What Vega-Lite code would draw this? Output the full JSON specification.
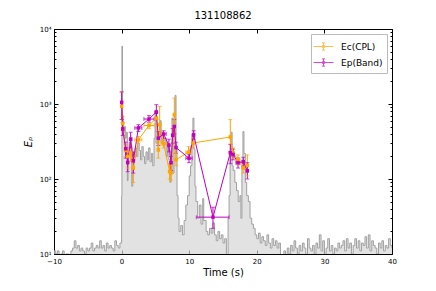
{
  "$schema": "https://vega.github.io/schema/vega-lite/v6.json",
  "autosize": "none",
  "width": 338,
  "height": 225,
  "padding": {"left": 54, "top": 29, "right": 44, "bottom": 37},
  "background": "white",
  "title": {"text": "131108862", "fontSize": 10, "fontWeight": "normal", "font": "DejaVu Sans", "offset": 4, "color": "black"},
  "config": {
    "font": "DejaVu Sans",
    "view": {"stroke": "black", "strokeWidth": 1},
    "axis": {"grid": false, "domain": false, "tickColor": "black", "labelColor": "black", "titleColor": "black", "labelFont": "DejaVu Sans", "titleFont": "DejaVu Sans"}
  },
  "datasets": {
    "lc": [
      {"t": -10, "c": 11}, {"t": -9.75, "c": 10}, {"t": -9.5, "c": 11}, {"t": -9.25, "c": 9}, {"t": -9, "c": 10},
      {"t": -8.75, "c": 11}, {"t": -8.5, "c": 9}, {"t": -8.25, "c": 10}, {"t": -8, "c": 10}, {"t": -7.75, "c": 9},
      {"t": -7.5, "c": 11}, {"t": -7.25, "c": 12}, {"t": -7, "c": 15}, {"t": -6.75, "c": 12}, {"t": -6.5, "c": 13},
      {"t": -6.25, "c": 11}, {"t": -6, "c": 12}, {"t": -5.75, "c": 11}, {"t": -5.5, "c": 10}, {"t": -5.25, "c": 12},
      {"t": -5, "c": 11}, {"t": -4.75, "c": 12}, {"t": -4.5, "c": 14}, {"t": -4.25, "c": 11}, {"t": -4, "c": 12},
      {"t": -3.75, "c": 13}, {"t": -3.5, "c": 12}, {"t": -3.25, "c": 15}, {"t": -3, "c": 12}, {"t": -2.75, "c": 13},
      {"t": -2.5, "c": 11}, {"t": -2.25, "c": 14}, {"t": -2, "c": 12}, {"t": -1.75, "c": 13}, {"t": -1.5, "c": 12},
      {"t": -1.25, "c": 11}, {"t": -1, "c": 15}, {"t": -0.75, "c": 13}, {"t": -0.5, "c": 12}, {"t": -0.25, "c": 14},
      {"t": 0.0, "c": 60}, {"t": 0.05, "c": 5900}, {"t": 0.13, "c": 700}, {"t": 0.25, "c": 420}, {"t": 0.4, "c": 500},
      {"t": 0.55, "c": 350}, {"t": 0.7, "c": 420}, {"t": 0.85, "c": 95}, {"t": 0.95, "c": 200}, {"t": 1.1, "c": 310},
      {"t": 1.3, "c": 250}, {"t": 1.5, "c": 80}, {"t": 1.65, "c": 150}, {"t": 1.8, "c": 220}, {"t": 2.0, "c": 260},
      {"t": 2.2, "c": 200}, {"t": 2.4, "c": 300}, {"t": 2.6, "c": 240}, {"t": 2.8, "c": 180}, {"t": 3.0, "c": 270},
      {"t": 3.2, "c": 200}, {"t": 3.4, "c": 160}, {"t": 3.6, "c": 230}, {"t": 3.8, "c": 180}, {"t": 4.0, "c": 260},
      {"t": 4.2, "c": 170}, {"t": 4.4, "c": 220}, {"t": 4.6, "c": 150}, {"t": 4.8, "c": 350}, {"t": 4.95, "c": 800},
      {"t": 5.1, "c": 300}, {"t": 5.3, "c": 420}, {"t": 5.5, "c": 350}, {"t": 5.7, "c": 600}, {"t": 5.85, "c": 300},
      {"t": 6.0, "c": 420}, {"t": 6.2, "c": 280}, {"t": 6.4, "c": 350}, {"t": 6.6, "c": 200}, {"t": 6.8, "c": 300},
      {"t": 7.0, "c": 180}, {"t": 7.15, "c": 90}, {"t": 7.3, "c": 250}, {"t": 7.45, "c": 650}, {"t": 7.6, "c": 120},
      {"t": 7.75, "c": 300}, {"t": 7.9, "c": 1300}, {"t": 8.05, "c": 250}, {"t": 8.2, "c": 60}, {"t": 8.35, "c": 30},
      {"t": 8.5, "c": 20}, {"t": 8.75, "c": 24}, {"t": 9.0, "c": 18}, {"t": 9.25, "c": 28}, {"t": 9.5, "c": 45},
      {"t": 9.75, "c": 60}, {"t": 10.0, "c": 110}, {"t": 10.2, "c": 150}, {"t": 10.4, "c": 400}, {"t": 10.55, "c": 650},
      {"t": 10.7, "c": 250}, {"t": 10.85, "c": 80}, {"t": 11.0, "c": 50}, {"t": 11.25, "c": 30}, {"t": 11.5, "c": 45},
      {"t": 11.75, "c": 25}, {"t": 12.0, "c": 55}, {"t": 12.15, "c": 28}, {"t": 12.5, "c": 20}, {"t": 12.75, "c": 18},
      {"t": 13.0, "c": 22}, {"t": 13.25, "c": 19}, {"t": 13.5, "c": 26}, {"t": 13.75, "c": 18}, {"t": 14.0, "c": 15},
      {"t": 14.25, "c": 20}, {"t": 14.5, "c": 16}, {"t": 14.75, "c": 18}, {"t": 15.0, "c": 14}, {"t": 15.25, "c": 16},
      {"t": 15.5, "c": 9}, {"t": 15.75, "c": 30}, {"t": 15.9, "c": 60}, {"t": 16.05, "c": 200}, {"t": 16.2, "c": 420},
      {"t": 16.35, "c": 150}, {"t": 16.5, "c": 130}, {"t": 16.75, "c": 90}, {"t": 17.0, "c": 70}, {"t": 17.25, "c": 50},
      {"t": 17.5, "c": 60}, {"t": 17.65, "c": 30}, {"t": 17.8, "c": 150}, {"t": 17.95, "c": 430}, {"t": 18.1, "c": 220},
      {"t": 18.3, "c": 90}, {"t": 18.5, "c": 60}, {"t": 18.75, "c": 50}, {"t": 19.0, "c": 30}, {"t": 19.25, "c": 25},
      {"t": 19.5, "c": 22}, {"t": 19.75, "c": 18}, {"t": 20.0, "c": 16}, {"t": 20.25, "c": 19}, {"t": 20.5, "c": 14},
      {"t": 20.75, "c": 17}, {"t": 21.0, "c": 15}, {"t": 21.25, "c": 13}, {"t": 21.5, "c": 18}, {"t": 21.75, "c": 14},
      {"t": 22.0, "c": 12}, {"t": 22.25, "c": 16}, {"t": 22.5, "c": 13}, {"t": 22.75, "c": 15}, {"t": 23.0, "c": 12},
      {"t": 23.25, "c": 14}, {"t": 23.5, "c": 8}, {"t": 23.75, "c": 9},
      {"t": 24.0, "c": 11}, {"t": 24.25, "c": 9}, {"t": 24.5, "c": 12}, {"t": 24.75, "c": 10}, {"t": 25.0, "c": 13},
      {"t": 25.25, "c": 11}, {"t": 25.5, "c": 15}, {"t": 25.75, "c": 12}, {"t": 26.0, "c": 10}, {"t": 26.25, "c": 13},
      {"t": 26.5, "c": 11}, {"t": 26.75, "c": 14}, {"t": 27.0, "c": 12}, {"t": 27.25, "c": 10}, {"t": 27.5, "c": 16},
      {"t": 27.75, "c": 12}, {"t": 28.0, "c": 11}, {"t": 28.25, "c": 13}, {"t": 28.5, "c": 10}, {"t": 28.75, "c": 14},
      {"t": 29.0, "c": 12}, {"t": 29.25, "c": 18}, {"t": 29.5, "c": 11}, {"t": 29.75, "c": 15}, {"t": 30.0, "c": 10},
      {"t": 30.25, "c": 12}, {"t": 30.5, "c": 16}, {"t": 30.75, "c": 11}, {"t": 31.0, "c": 13}, {"t": 31.25, "c": 10},
      {"t": 31.5, "c": 12}, {"t": 31.75, "c": 11}, {"t": 32.0, "c": 14}, {"t": 32.25, "c": 12}, {"t": 32.5, "c": 13},
      {"t": 32.75, "c": 15}, {"t": 33.0, "c": 11}, {"t": 33.25, "c": 16}, {"t": 33.5, "c": 12}, {"t": 33.75, "c": 14},
      {"t": 34.0, "c": 10}, {"t": 34.25, "c": 13}, {"t": 34.5, "c": 16}, {"t": 34.75, "c": 12}, {"t": 35.0, "c": 15},
      {"t": 35.25, "c": 11}, {"t": 35.5, "c": 14}, {"t": 35.75, "c": 13}, {"t": 36.0, "c": 17}, {"t": 36.25, "c": 12},
      {"t": 36.5, "c": 18}, {"t": 36.75, "c": 11}, {"t": 37.0, "c": 15}, {"t": 37.25, "c": 13}, {"t": 37.5, "c": 12},
      {"t": 37.75, "c": 10}, {"t": 38.0, "c": 14}, {"t": 38.25, "c": 12}, {"t": 38.5, "c": 15}, {"t": 38.75, "c": 11},
      {"t": 39.0, "c": 13}, {"t": 39.25, "c": 12}, {"t": 39.5, "c": 16}, {"t": 39.75, "c": 13}, {"t": 40.0, "c": 12}
    ],
    "pts": [
      {"s": "Ec(CPL)", "t": 0.01, "xlo": -0.04, "xhi": 0.06, "v": 930, "lo": 620, "hi": 1450},
      {"s": "Ec(CPL)", "t": 0.16, "xlo": 0.06, "xhi": 0.26, "v": 550, "lo": 440, "hi": 680},
      {"s": "Ec(CPL)", "t": 0.6, "xlo": 0.45, "xhi": 0.75, "v": 241, "lo": 200, "hi": 290},
      {"s": "Ec(CPL)", "t": 0.9, "xlo": 0.8, "xhi": 1.0, "v": 200, "lo": 140, "hi": 260},
      {"s": "Ec(CPL)", "t": 1.34, "xlo": 1.2, "xhi": 1.5, "v": 222, "lo": 170, "hi": 280},
      {"s": "Ec(CPL)", "t": 1.74, "xlo": 1.6, "xhi": 1.9, "v": 140, "lo": 90, "hi": 200},
      {"s": "Ec(CPL)", "t": 2.48, "xlo": 1.95, "xhi": 3.0, "v": 333, "lo": 300, "hi": 370},
      {"s": "Ec(CPL)", "t": 4.05, "xlo": 3.3, "xhi": 4.8, "v": 517, "lo": 470, "hi": 570},
      {"s": "Ec(CPL)", "t": 5.14, "xlo": 4.95, "xhi": 5.3, "v": 647, "lo": 530, "hi": 780},
      {"s": "Ec(CPL)", "t": 5.43, "xlo": 5.3, "xhi": 5.55, "v": 245, "lo": 190, "hi": 310},
      {"s": "Ec(CPL)", "t": 5.63, "xlo": 5.55, "xhi": 5.75, "v": 530, "lo": 330, "hi": 930},
      {"s": "Ec(CPL)", "t": 6.22, "xlo": 5.85, "xhi": 6.6, "v": 295, "lo": 260, "hi": 330},
      {"s": "Ec(CPL)", "t": 7.1, "xlo": 7.0, "xhi": 7.2, "v": 126, "lo": 100, "hi": 160},
      {"s": "Ec(CPL)", "t": 7.31, "xlo": 7.2, "xhi": 7.42, "v": 120, "lo": 95, "hi": 150},
      {"s": "Ec(CPL)", "t": 7.8, "xlo": 7.7, "xhi": 7.9, "v": 720, "lo": 450, "hi": 1200},
      {"s": "Ec(CPL)", "t": 8.05, "xlo": 7.95, "xhi": 8.15, "v": 181, "lo": 150, "hi": 220},
      {"s": "Ec(CPL)", "t": 9.9, "xlo": 9.5, "xhi": 10.3, "v": 228, "lo": 195, "hi": 270},
      {"s": "Ec(CPL)", "t": 10.56, "xlo": 10.4, "xhi": 10.75, "v": 302, "lo": 260, "hi": 350},
      {"s": "Ec(CPL)", "t": 16.08, "xlo": 15.95, "xhi": 16.2, "v": 363, "lo": 230, "hi": 620},
      {"s": "Ec(CPL)", "t": 16.48, "xlo": 16.3, "xhi": 16.65, "v": 222, "lo": 190, "hi": 260},
      {"s": "Ec(CPL)", "t": 17.22, "xlo": 16.9, "xhi": 17.5, "v": 181, "lo": 155, "hi": 210},
      {"s": "Ec(CPL)", "t": 18.0, "xlo": 17.85, "xhi": 18.15, "v": 140, "lo": 120, "hi": 165},
      {"s": "Ec(CPL)", "t": 18.6, "xlo": 18.45, "xhi": 18.75, "v": 152, "lo": 110, "hi": 210},
      {"s": "Ep(Band)", "t": 0.01, "xlo": -0.04, "xhi": 0.06, "v": 1050, "lo": 620, "hi": 1450},
      {"s": "Ep(Band)", "t": 0.16, "xlo": 0.06, "xhi": 0.26, "v": 465, "lo": 380, "hi": 560},
      {"s": "Ep(Band)", "t": 0.6, "xlo": 0.45, "xhi": 0.75, "v": 253, "lo": 190, "hi": 310},
      {"s": "Ep(Band)", "t": 0.9, "xlo": 0.8, "xhi": 1.0, "v": 166, "lo": 125, "hi": 215},
      {"s": "Ep(Band)", "t": 1.34, "xlo": 1.2, "xhi": 1.5, "v": 340, "lo": 260, "hi": 420},
      {"s": "Ep(Band)", "t": 1.74, "xlo": 1.6, "xhi": 1.9, "v": 175, "lo": 120, "hi": 230},
      {"s": "Ep(Band)", "t": 2.48, "xlo": 1.95, "xhi": 3.0, "v": 480, "lo": 430, "hi": 530},
      {"s": "Ep(Band)", "t": 4.05, "xlo": 3.3, "xhi": 4.8, "v": 630, "lo": 570, "hi": 700},
      {"s": "Ep(Band)", "t": 5.14, "xlo": 4.95, "xhi": 5.3, "v": 780, "lo": 620, "hi": 980},
      {"s": "Ep(Band)", "t": 5.43, "xlo": 5.3, "xhi": 5.55, "v": 350, "lo": 280, "hi": 430},
      {"s": "Ep(Band)", "t": 6.22, "xlo": 5.85, "xhi": 6.6, "v": 398, "lo": 350, "hi": 440},
      {"s": "Ep(Band)", "t": 7.0, "xlo": 6.9, "xhi": 7.1, "v": 281, "lo": 230, "hi": 340},
      {"s": "Ep(Band)", "t": 7.31, "xlo": 7.2, "xhi": 7.42, "v": 165, "lo": 130, "hi": 200},
      {"s": "Ep(Band)", "t": 7.55, "xlo": 7.45, "xhi": 7.65, "v": 383, "lo": 300, "hi": 470},
      {"s": "Ep(Band)", "t": 7.8, "xlo": 7.7, "xhi": 7.9, "v": 500, "lo": 400, "hi": 620},
      {"s": "Ep(Band)", "t": 8.05, "xlo": 7.95, "xhi": 8.15, "v": 263, "lo": 220, "hi": 310},
      {"s": "Ep(Band)", "t": 9.97, "xlo": 9.5, "xhi": 10.45, "v": 189, "lo": 165, "hi": 215},
      {"s": "Ep(Band)", "t": 10.66, "xlo": 10.5, "xhi": 10.8, "v": 387, "lo": 340, "hi": 440},
      {"s": "Ep(Band)", "t": 13.52, "xlo": 11.05, "xhi": 15.89, "v": 31, "lo": 22, "hi": 42},
      {"s": "Ep(Band)", "t": 16.08, "xlo": 15.95, "xhi": 16.2, "v": 224, "lo": 160, "hi": 290},
      {"s": "Ep(Band)", "t": 16.48, "xlo": 16.3, "xhi": 16.65, "v": 213, "lo": 180, "hi": 250},
      {"s": "Ep(Band)", "t": 17.22, "xlo": 16.9, "xhi": 17.5, "v": 165, "lo": 140, "hi": 190},
      {"s": "Ep(Band)", "t": 18.0, "xlo": 17.85, "xhi": 18.15, "v": 170, "lo": 145, "hi": 195},
      {"s": "Ep(Band)", "t": 18.6, "xlo": 18.45, "xhi": 18.75, "v": 129, "lo": 100, "hi": 165}
    ]
  },
  "resolve": {"axis": {"x": "independent", "y": "independent"}},
  "layer": [
    {
      "data": {"name": "lc"},
      "mark": {"type": "area", "interpolate": "step-after", "color": "#d6d6d6", "clip": true, "line": {"color": "#a0a0a0", "strokeWidth": 1}},
      "encoding": {
        "x": {"field": "t", "type": "quantitative", "scale": {"domain": [-10, 40], "nice": false, "zero": false},
              "axis": {"orient": "bottom", "values": [-10, 0, 10, 20, 30, 40], "format": "d", "labelFontSize": 7, "tickSize": -4, "labelPadding": 7, "title": "Time (s)", "titleFontSize": 10, "titleFontWeight": "normal", "titlePadding": 3, "labelFlush": false}},
        "y": {"field": "c", "type": "quantitative", "scale": {"type": "log", "domain": [10, 10000], "nice": false},
              "axis": {"orient": "left", "values": [10,20,30,40,50,60,70,80,90,100,200,300,400,500,600,700,800,900,1000,2000,3000,4000,5000,6000,7000,8000,9000,10000],
                       "tickSize": {"condition": {"test": "indexof([10,100,1000,10000], datum.value) >= 0", "value": -4}, "value": -2},
                       "labelExpr": "datum.value == 10 ? '10¹' : datum.value == 100 ? '10²' : datum.value == 1000 ? '10³' : datum.value == 10000 ? '10⁴' : ''",
                       "labelFontSize": 7, "labelPadding": 7, "labelOverlap": false, "title": "Eₚ", "titleFontStyle": "italic", "titleFontWeight": "normal", "titleFontSize": 10, "titlePadding": 6}},
        "y2": {"datum": 10}
      }
    },
    {
      "data": {"name": "pts"},
      "mark": {"type": "rule", "strokeWidth": 1, "clip": true},
      "encoding": {
        "x": {"field": "t", "type": "quantitative", "axis": {"orient": "top", "values": [-10, 0, 10, 20, 30, 40], "labels": false, "tickSize": -4, "title": null}},
        "y": {"field": "lo", "type": "quantitative", "axis": {"orient": "right", "values": [10,20,30,40,50,60,70,80,90,100,200,300,400,500,600,700,800,900,1000,2000,3000,4000,5000,6000,7000,8000,9000,10000], "labels": false, "title": null,
               "tickSize": {"condition": {"test": "indexof([10,100,1000,10000], datum.value) >= 0", "value": -4}, "value": -2}}},
        "y2": {"field": "hi"},
        "color": {"field": "s", "type": "nominal"}
      }
    },
    {
      "data": {"name": "pts"},
      "mark": {"type": "rule", "strokeWidth": 1, "clip": true},
      "encoding": {
        "x": {"field": "xlo", "type": "quantitative", "axis": null},
        "x2": {"field": "xhi"},
        "y": {"field": "v", "type": "quantitative", "axis": null},
        "color": {"field": "s", "type": "nominal"}
      }
    },
    {
      "data": {"name": "pts"},
      "mark": {"type": "tick", "orient": "horizontal", "size": 4, "thickness": 1},
      "encoding": {
        "x": {"field": "t", "type": "quantitative", "axis": null},
        "y": {"field": "lo", "type": "quantitative", "axis": null},
        "color": {"field": "s", "type": "nominal"}
      }
    },
    {
      "data": {"name": "pts"},
      "mark": {"type": "tick", "orient": "horizontal", "size": 4, "thickness": 1},
      "encoding": {
        "x": {"field": "t", "type": "quantitative", "axis": null},
        "y": {"field": "hi", "type": "quantitative", "axis": null},
        "color": {"field": "s", "type": "nominal"}
      }
    },
    {
      "data": {"name": "pts"},
      "mark": {"type": "tick", "orient": "vertical", "size": 4, "thickness": 1},
      "encoding": {
        "x": {"field": "xlo", "type": "quantitative", "axis": null},
        "y": {"field": "v", "type": "quantitative", "axis": null},
        "color": {"field": "s", "type": "nominal"}
      }
    },
    {
      "data": {"name": "pts"},
      "mark": {"type": "tick", "orient": "vertical", "size": 4, "thickness": 1},
      "encoding": {
        "x": {"field": "xhi", "type": "quantitative", "axis": null},
        "y": {"field": "v", "type": "quantitative", "axis": null},
        "color": {"field": "s", "type": "nominal"}
      }
    },
    {
      "data": {"name": "pts"},
      "mark": {"type": "line", "strokeWidth": 1},
      "encoding": {
        "x": {"field": "t", "type": "quantitative", "axis": null},
        "y": {"field": "v", "type": "quantitative", "axis": null},
        "order": {"field": "t", "type": "quantitative"},
        "color": {"field": "s", "type": "nominal"}
      }
    },
    {
      "data": {"name": "pts"},
      "mark": {"type": "point", "shape": "square", "filled": true, "size": 12, "opacity": 1},
      "encoding": {
        "x": {"field": "t", "type": "quantitative", "axis": null},
        "y": {"field": "v", "type": "quantitative", "axis": null},
        "color": {"field": "s", "type": "nominal",
                  "scale": {"domain": ["Ec(CPL)", "Ep(Band)"], "range": ["#FFA500", "#BF00BF"]},
                  "legend": {"orient": "top-right", "title": null, "offset": 5, "padding": 4, "strokeColor": "#bbbbbb", "fillColor": "white",
                             "labelFontSize": 9, "labelFont": "DejaVu Sans", "labelColor": "black", "rowPadding": 1, "labelOffset": 9,
                             "symbolType": "M-1.25,0H1.25M0,-0.45V0.45M-0.2,-0.45H0.2M-0.2,0.45H0.2M-0.12,-0.12H0.12V0.12H-0.12Z",
                             "symbolSize": 256, "symbolStrokeWidth": 1,
                             "encode": {"symbols": {"update": {"fill": {"scale": "color", "field": "value"}, "stroke": {"scale": "color", "field": "value"}, "opacity": {"value": 1}}}}}}
      }
    }
  ]
}
